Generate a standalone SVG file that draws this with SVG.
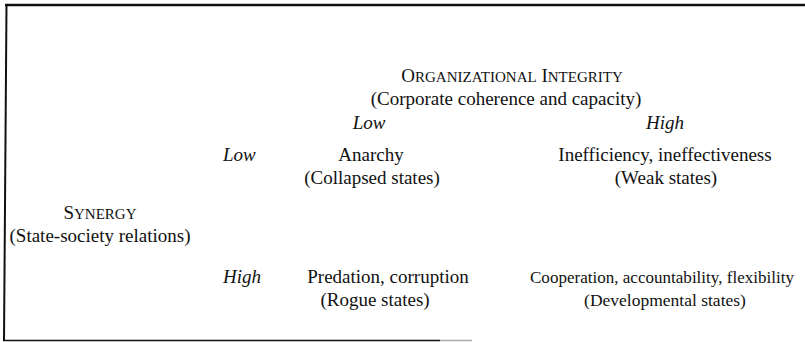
<svg xmlns="http://www.w3.org/2000/svg" width="805" height="342" viewBox="0 0 805 342">
<style>
text{font-family:"Liberation Serif","Times New Roman",serif;font-size:19px;fill:#111;text-anchor:middle}
.i{font-style:italic}
.l{text-anchor:start}
.sc{font-size:15px}
.n{font-size:17.5px}
.frame{stroke:#111;fill:none}
</style>
<rect width="805" height="342" fill="#fff"/>
<g id="frame">
<line class="frame" x1="5" y1="5" x2="805" y2="5" stroke-width="2.5"/>
<line class="frame" x1="6.5" y1="4" x2="4" y2="341" stroke-width="2"/>
<line class="frame" x1="3" y1="340.5" x2="440" y2="340.5" stroke-width="1.5"/>
<line x1="440" y1="340.5" x2="472" y2="340.5" stroke="#aaa" stroke-width="1.5"/>
</g>
<g id="col-axis">
<text x="512" y="82">O<tspan class="sc">RGANIZATIONAL</tspan> I<tspan class="sc">NTEGRITY</tspan></text>
<text x="506" y="105">(Corporate coherence and capacity)</text>
</g>
<g id="col-low"><text class="i" x="369" y="129">Low</text></g>
<g id="col-high"><text class="i" x="665" y="129">High</text></g>
<g id="row-axis">
<text x="100" y="219">S<tspan class="sc">YNERGY</tspan></text>
<text x="100" y="242">(State-society relations)</text>
</g>
<g id="row-low"><text class="i l" x="223" y="161">Low</text></g>
<g id="row-high"><text class="i l" x="223" y="283">High</text></g>
<g id="cell-low-low">
<text x="371" y="161">Anarchy</text>
<text x="372" y="184">(Collapsed states)</text>
</g>
<g id="cell-low-high">
<text x="665" y="161">Inefficiency, ineffectiveness</text>
<text x="666" y="184">(Weak states)</text>
</g>
<g id="cell-high-low">
<text x="388" y="283">Predation, corruption</text>
<text x="375" y="306">(Rogue states)</text>
</g>
<g id="cell-high-high">
<text class="n" x="662" y="283" textLength="264" lengthAdjust="spacingAndGlyphs">Cooperation, accountability, flexibility</text>
<text class="n" x="665" y="306">(Developmental states)</text>
</g>
<g id="connectors"></g>
</svg>
